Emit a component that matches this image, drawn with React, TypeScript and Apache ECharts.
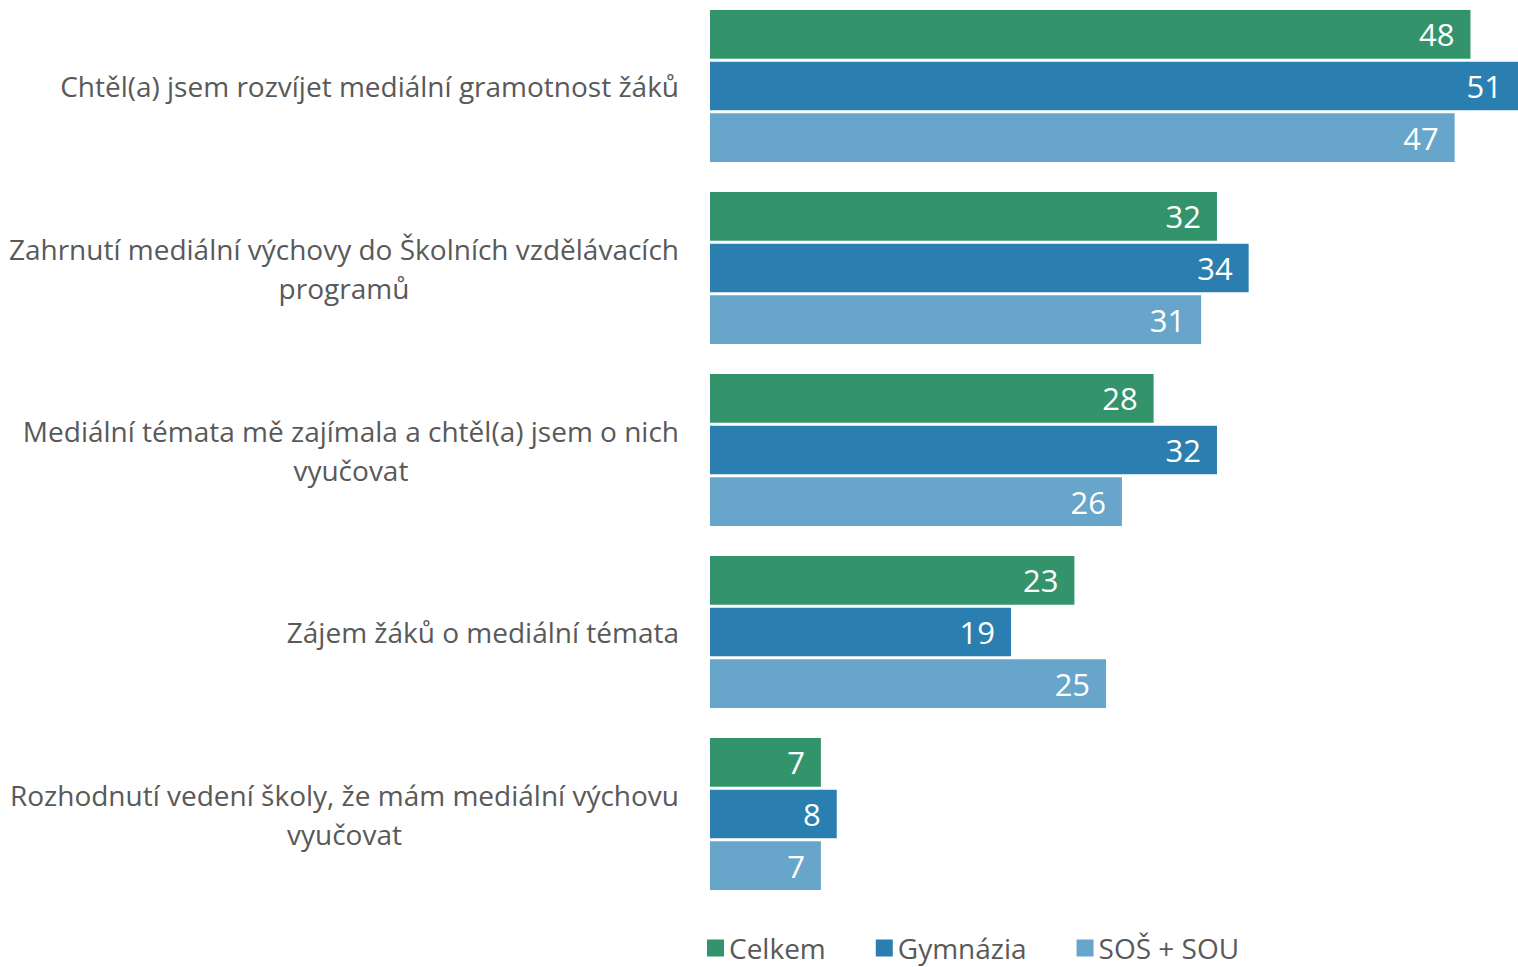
import React, { useEffect, useRef } from "react";
import * as echarts from "echarts";

const categories = [
  "Chtěl(a) jsem rozvíjet mediální gramotnost žáků",
  "Zahrnutí mediální výchovy do Školních vzdělávacích\nprogramů",
  "Mediální témata mě zajímala a chtěl(a) jsem o nich\nvyučovat",
  "Zájem žáků o mediální témata",
  "Rozhodnutí vedení školy, že mám mediální výchovu\nvyučovat",
];
const seriesNames = ["Celkem", "Gymnázia", "SOŠ + SOU"];
const celkem = [48, 32, 28, 23, 7];
const gymnazia = [51, 34, 32, 19, 8];
const sosSou = [47, 31, 26, 25, 7];
const colors = ["#33946B", "#2A7FB0", "#67A5CB"];

const FONT = "'Open Sans', 'Noto Sans', sans-serif";

export default function App() {
  const ref = useRef<HTMLDivElement>(null);
  useEffect(() => {
    if (!ref.current) return;
    const chart = echarts.init(ref.current, undefined, { renderer: "svg" });
    const dataSets = [celkem, gymnazia, sosSou];
    chart.setOption({
      animation: false,
      color: colors,
      grid: { left: 710, right: -2, top: 0, height: 910, containLabel: false },
      legend: {
        data: seriesNames,
        left: 702,
        top: 934,
        icon: "rect",
        itemWidth: 17,
        itemHeight: 17,
        itemGap: 50,
        textStyle: {
          fontFamily: FONT,
          fontSize: 28,
          lineHeight: 28,
          color: "#595959",
          padding: [0, 0, 0, 0],
        },
      },
      xAxis: {
        type: "value",
        min: 0,
        max: 51,
        show: false,
        splitLine: { show: false },
      },
      yAxis: {
        type: "category",
        inverse: true,
        data: categories,
        axisLine: { show: false },
        axisTick: { show: false },
        axisLabel: {
          margin: 31,
          fontFamily: FONT,
          fontSize: 28,
          color: "#595959",
          lineHeight: 39,
          formatter: (v: string) =>
            v
              .split("\n")
              .map((l) => "{c|" + l + "}")
              .join("\n"),
          rich: {
            c: {
              align: "center",
              fontFamily: FONT,
              fontSize: 28,
              color: "#595959",
              lineHeight: 39,
            },
          },
        },
      },
      series: seriesNames.map((name, i) => ({
        name,
        type: "bar",
        data: dataSets[i],
        barCategoryGap: "16.5%",
        barGap: "6%",
        itemStyle: { color: colors[i] },
        label: {
          show: true,
          position: "insideRight",
          distance: 16,
          color: "#ffffff",
          fontFamily: FONT,
          fontSize: 31,
        },
      })),
    });
    return () => chart.dispose();
  }, []);
  return (
    <div style={{ position: "absolute", left: 0, top: 0, width: 1518, height: 967, overflow: "hidden" }}>
      <div ref={ref} style={{ width: 1518, height: 972, position: "absolute", left: 0, top: -5 }} />
    </div>
  );
}
